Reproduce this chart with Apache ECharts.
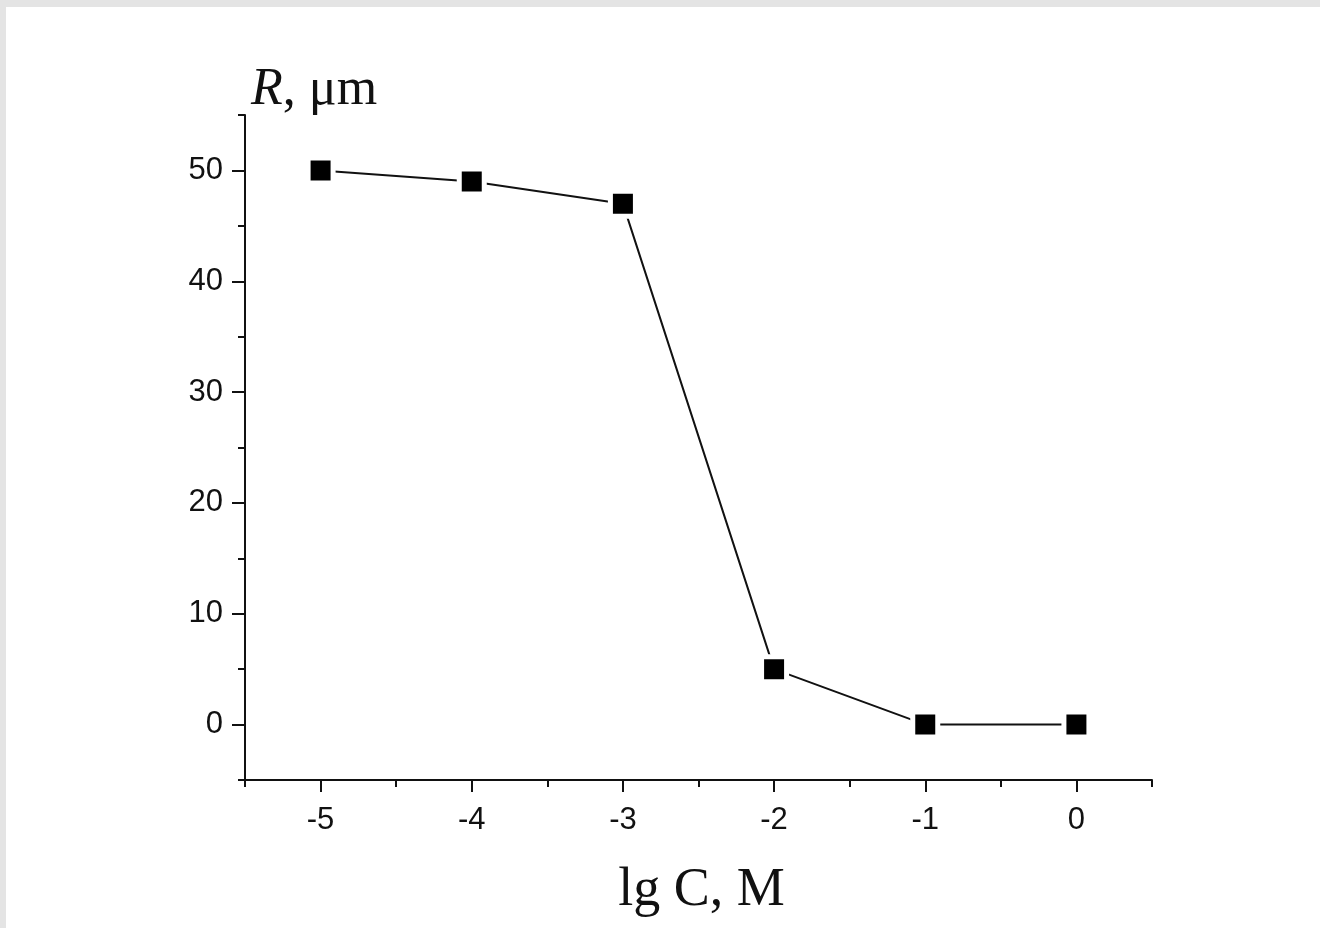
<!DOCTYPE html>
<html>
<head>
<meta charset="utf-8">
<title>R vs lg C</title>
<script src="https://cdn.jsdelivr.net/npm/echarts@6/dist/echarts.min.js"></script>
<style>
    html, body { margin: 0; padding: 0; width: 100%; height: 100%; background: #e4e4e4; }
    #main { position: absolute; left: 6px; top: 7px; width: 1314px; height: 921px; background: #fff; }
</style>
</head>
<body>
<div id="main"></div>
<script>
// data
var lgC = [-5, -4, -3, -2, -1, 0];
var radius = [50, 49, 47, 5, 0, 0];
var xMajor = [-5, -4, -3, -2, -1, 0];
var yMajor = [0, 10, 20, 30, 40, 50];

var chart = echarts.init(document.getElementById('main'));

var points = [];
for (var i = 0; i < lgC.length; i++) {
    points.push([lgC[i], radius[i]]);
}

var axisColor = '#111';
var labelFont = 'Liberation Sans, Arial, sans-serif';
var nameFont = 'Liberation Serif, Times New Roman, serif';

var option = {
    animation: false,
    // #main sits at (6, 7) in the page
    grid: { left: 239, right: 168, top: 108, bottom: 148 },
    xAxis: [{
        type: 'value',
        min: -5.5, max: 0.5, interval: 0.5,
        splitLine: { show: false },
        axisLine: { onZero: false, lineStyle: { color: axisColor, width: 2 } },
        axisTick: { length: 7, lineStyle: { color: axisColor, width: 2 } },
        axisLabel: {
            color: '#111', fontSize: 31, fontFamily: labelFont, margin: 25,
            formatter: function (v) { return Number.isInteger(v) ? String(v) : ''; }
        },
        name: 'lg C, M',
        nameLocation: 'middle',
        nameGap: 84,
        nameTextStyle: { color: '#111', fontSize: 54, fontFamily: nameFont, padding: [0, 0, 0, 6] }
    }, {
        type: 'value',
        position: 'bottom',
        min: -5.5, max: 0.5,
        splitLine: { show: false },
        axisLine: { show: false, onZero: false },
        axisTick: { length: 12, customValues: xMajor, lineStyle: { color: axisColor, width: 2 } },
        axisLabel: { show: false }
    }],
    yAxis: [{
        type: 'value',
        min: -5, max: 55, interval: 5,
        splitLine: { show: false },
        axisLine: { show: true, onZero: false, lineStyle: { color: axisColor, width: 2 } },
        axisTick: { show: true, length: 7, lineStyle: { color: axisColor, width: 2 } },
        axisLabel: {
            color: '#111', fontSize: 31, fontFamily: labelFont, margin: 22,
            formatter: function (v) { return v % 10 === 0 ? String(v) : ''; }
        },
        name: '{i|R}, μm',
        nameLocation: 'end',
        nameGap: -1,
        nameTextStyle: {
            color: '#111', fontSize: 52, fontFamily: nameFont,
            align: 'left', padding: [0, 0, 0, 6],
            rich: { i: { fontStyle: 'italic', fontSize: 52, fontFamily: nameFont, color: '#111' } }
        }
    }, {
        type: 'value',
        position: 'left',
        min: -5, max: 55,
        splitLine: { show: false },
        axisLine: { show: false, onZero: false },
        axisTick: { show: true, length: 13, customValues: yMajor, lineStyle: { color: axisColor, width: 2 } },
        axisLabel: { show: false }
    }],
    series: [{
        type: 'line',
        data: points,
        symbol: 'rect',
        symbolSize: 25,
        lineStyle: { color: '#111', width: 2 },
        itemStyle: { color: '#000', borderColor: '#fff', borderWidth: 5 }
    }]
};

chart.setOption(option);
</script>
</body>
</html>
